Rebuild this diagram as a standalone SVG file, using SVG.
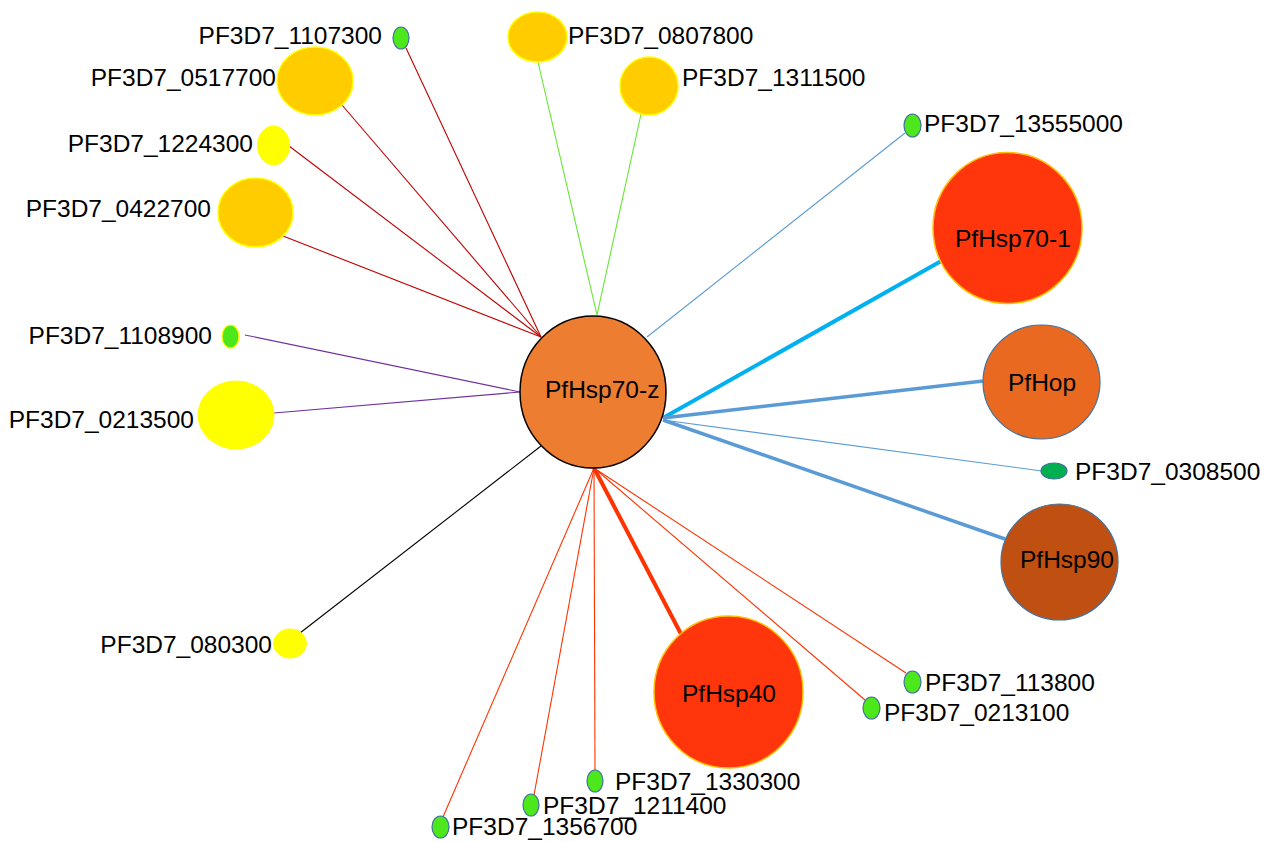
<svg xmlns="http://www.w3.org/2000/svg" width="1276" height="842" viewBox="0 0 1276 842">
<style>
text{font-family:"Liberation Sans",Arial,sans-serif;font-size:24.5px;fill:#000}
.e{fill:none;stroke-width:1.1}
.dr{stroke:#C00000}.gr{stroke:#66E633}.pu{stroke:#7030A0}.bk{stroke:#000}.lb{stroke:#5B9BD5}.rd{stroke:#FF3300}
.sg{fill:#4DE81C;stroke:#41719C;stroke-width:1.2}
.go{fill:#FFCC00;stroke:#FFFF00;stroke-width:1.5}
.yl{fill:#FFFF00;stroke:#FFFF00;stroke-width:1}
.rc{fill:#FF350C;stroke:#FFC000;stroke-width:1.5}
.end{text-anchor:end}
</style>
<g id="connectors">
<line class="e dr" x1="406" y1="48" x2="541" y2="337"/>
<line class="e dr" x1="342" y1="105" x2="541" y2="337"/>
<line class="e dr" x1="289" y1="146" x2="541" y2="337"/>
<line class="e dr" x1="283" y1="236" x2="541" y2="337"/>
<line class="e gr" x1="538" y1="62" x2="597" y2="315"/>
<line class="e gr" x1="641" y1="114" x2="597" y2="315"/>
<line class="e pu" x1="245" y1="335" x2="520" y2="392"/>
<line class="e pu" x1="274" y1="413" x2="520" y2="392"/>
<line class="e bk" x1="300" y1="633" x2="541" y2="446"/>
<line class="e lb" x1="905" y1="133" x2="647" y2="337"/>
<line stroke="#00B0F0" stroke-width="4" x1="663" y1="418" x2="943" y2="260"/>
<line stroke="#5B9BD5" stroke-width="3.5" x1="663" y1="418" x2="983" y2="381"/>
<line class="e lb" x1="663" y1="420" x2="1042" y2="471"/>
<line stroke="#5B9BD5" stroke-width="3.5" x1="663" y1="420" x2="1005" y2="539"/>
<line stroke="#FF3300" stroke-width="4" x1="594" y1="468" x2="681" y2="634"/>
<line class="e rd" x1="594" y1="468" x2="906" y2="673"/>
<line class="e rd" x1="594" y1="468" x2="865" y2="700"/>
<line class="e rd" x1="594" y1="468" x2="595" y2="770"/>
<line class="e rd" x1="594" y1="468" x2="534" y2="795"/>
<line class="e rd" x1="594" y1="468" x2="443" y2="817"/>
</g>
<g id="PfHsp70-z"><ellipse cx="593" cy="392" rx="73" ry="76" fill="#ED7D31" stroke="#000" stroke-width="1.5"/><text x="545" y="398">PfHsp70-z</text></g>
<g id="PF3D7_1107300"><ellipse class="sg" cx="401" cy="38" rx="8" ry="11"/><text class="end" x="382" y="44">PF3D7_1107300</text></g>
<g id="PF3D7_0807800"><ellipse class="go" cx="537.5" cy="37" rx="29.5" ry="25"/><text x="568" y="44">PF3D7_0807800</text></g>
<g id="PF3D7_1311500"><ellipse class="go" cx="649" cy="86" rx="29" ry="29"/><text x="682" y="86">PF3D7_1311500</text></g>
<g id="PF3D7_0517700"><ellipse class="go" cx="315" cy="81" rx="38" ry="34"/><text class="end" x="276" y="86">PF3D7_0517700</text></g>
<g id="PF3D7_1224300"><ellipse class="yl" cx="273.5" cy="145.5" rx="16" ry="19.5"/><text class="end" x="253" y="152">PF3D7_1224300</text></g>
<g id="PF3D7_0422700"><ellipse class="go" cx="255.5" cy="212.5" rx="37.5" ry="34.5"/><text class="end" x="211" y="217">PF3D7_0422700</text></g>
<g id="PF3D7_1108900"><ellipse cx="230.5" cy="336.5" rx="8.5" ry="11.5" fill="#4DE81C" stroke="#FFFF00" stroke-width="1.2"/><text class="end" x="212" y="344">PF3D7_1108900</text></g>
<g id="PF3D7_0213500"><ellipse class="yl" cx="236" cy="415" rx="38" ry="34"/><text class="end" x="194" y="428">PF3D7_0213500</text></g>
<g id="PF3D7_080300"><ellipse class="yl" cx="290" cy="643.5" rx="16.5" ry="14.5"/><text class="end" x="272" y="653">PF3D7_080300</text></g>
<g id="PF3D7_13555000"><ellipse class="sg" cx="912.5" cy="125.5" rx="8.5" ry="11.5"/><text x="924" y="132">PF3D7_13555000</text></g>
<g id="PfHsp70-1"><ellipse class="rc" cx="1007.5" cy="228" rx="74.5" ry="75.5"/><text x="955" y="247">PfHsp70-1</text></g>
<g id="PfHop"><ellipse cx="1041.5" cy="382" rx="58.5" ry="57" fill="#E8691F" stroke="#41719C" stroke-width="1.2"/><text x="1008" y="391">PfHop</text></g>
<g id="PF3D7_0308500"><ellipse cx="1054" cy="471" rx="13" ry="8" fill="#00B050" stroke="#41719C" stroke-width="1.2"/><text x="1075" y="480">PF3D7_0308500</text></g>
<g id="PfHsp90"><ellipse cx="1059.5" cy="562" rx="58.5" ry="58" fill="#C05012" stroke="#41719C" stroke-width="1.2"/><text x="1020" y="568">PfHsp90</text></g>
<g id="PfHsp40"><ellipse class="rc" cx="728.5" cy="692" rx="74.5" ry="76"/><text x="682" y="702">PfHsp40</text></g>
<g id="PF3D7_113800"><ellipse class="sg" cx="912.5" cy="682" rx="8.5" ry="11"/><text x="925" y="691">PF3D7_113800</text></g>
<g id="PF3D7_0213100"><ellipse class="sg" cx="871.5" cy="708" rx="8.5" ry="11"/><text x="884" y="721">PF3D7_0213100</text></g>
<g id="PF3D7_1330300"><ellipse class="sg" cx="595" cy="781" rx="8" ry="11"/><text x="615" y="790">PF3D7_1330300</text></g>
<g id="PF3D7_1211400"><ellipse class="sg" cx="531" cy="805" rx="8" ry="11"/><text x="543" y="814">PF3D7_1211400</text></g>
<g id="PF3D7_1356700"><ellipse class="sg" cx="440.5" cy="827" rx="8.5" ry="11"/><text x="452" y="835">PF3D7_1356700</text></g>
</svg>
